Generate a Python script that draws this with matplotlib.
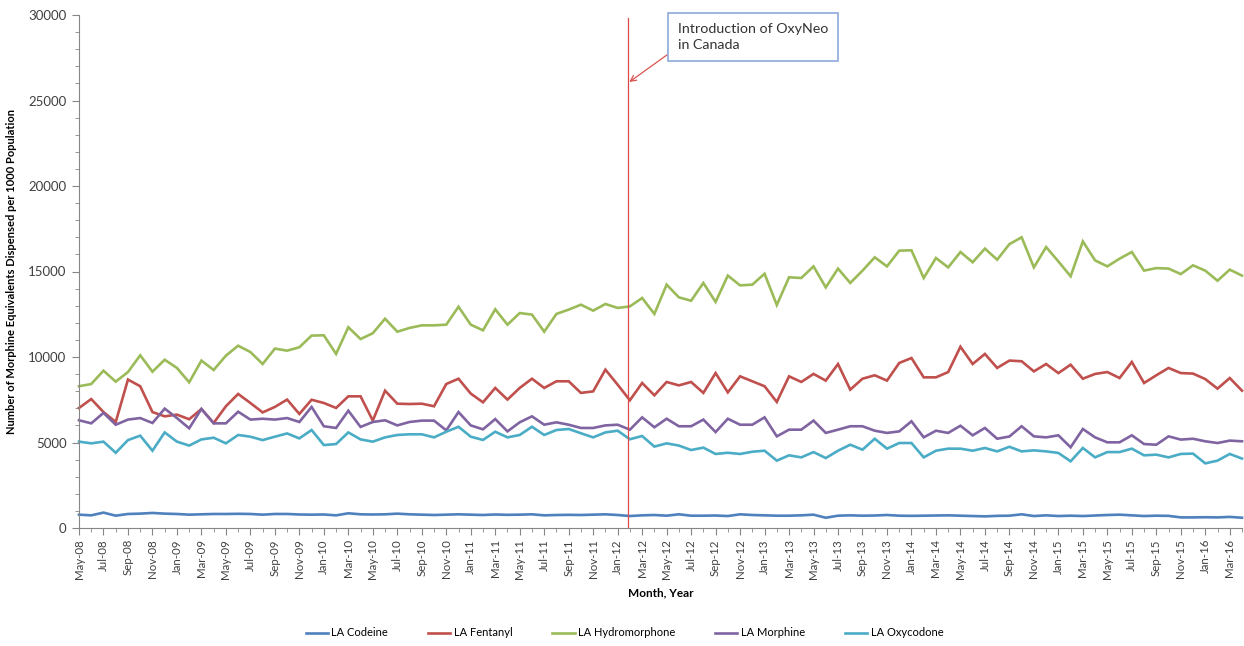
import pandas as pd
import matplotlib
matplotlib.use('Agg')
import matplotlib.pyplot as plt
from matplotlib.ticker import MultipleLocator

plt.rcParams['font.family'] = ['Lato', 'DejaVu Sans']

# monthly series, May-08 .. Apr-16
months = pd.date_range('2008-05-01', periods=96, freq='MS').strftime('%b-%y').tolist()

codeine = [780, 740, 900, 720, 820, 840, 880, 840, 820, 780,
           800, 820, 820, 830, 820, 780, 820, 820, 790, 780,
           790, 740, 860, 800, 790, 800, 840, 800, 780, 760,
           780, 800, 780, 760, 790, 770, 780, 800, 740, 760,
           770, 760, 780, 800, 760, 700, 740, 760, 720, 800,
           720, 720, 730, 700, 800, 760, 740, 720, 720, 740,
           780, 600, 720, 740, 720, 730, 760, 720, 710, 720,
           730, 740, 720, 700, 680, 710, 720, 800, 700, 740,
           700, 720, 700, 730, 760, 780, 740, 700, 720, 710,
           620, 620, 630, 620, 650, 600]

fentanyl = [7020, 7540, 6780, 6200, 8680, 8290, 6780, 6530, 6630, 6360,
            6960, 6140, 7120, 7840, 7310, 6760, 7080, 7510, 6670, 7500,
            7310, 7020, 7700, 7700, 6280, 8030, 7270, 7250, 7270, 7120,
            8420, 8730, 7860, 7350, 8190, 7510, 8190, 8730, 8190,
            8580, 8580, 7900, 7990, 9260, 8380, 7470, 8480, 7760, 8540,
            8340, 8540, 7900, 9060, 7930, 8870, 8580, 8290, 7370,
            8870, 8540, 9010, 8620, 9590, 8090, 8730, 8930, 8620, 9650,
            9940, 8810, 8810, 9120, 10600, 9590, 10180, 9360, 9790,
            9750, 9160, 9590, 9060, 9550, 8730, 9010, 9120, 8770, 9710,
            8480, 8930, 9360, 9060, 9030, 8710, 8150, 8770, 8030]

hydromorphone = [8290, 8420, 9200, 8560, 9120, 10100, 9140, 9840, 9360, 8520,
                 9790, 9240, 10080, 10660, 10290, 9590, 10490, 10370, 10570, 11250,
                 11270, 10180, 11740, 11050, 11390, 12240, 11480, 11700, 11850, 11850,
                 11890, 12940, 11890, 11560, 12790, 11890, 12570, 12480, 11480,
                 12520, 12770, 13060, 12710, 13100, 12870, 12960, 13450, 12520, 14230,
                 13490, 13290, 14330, 13220, 14760, 14190, 14230, 14870, 13040,
                 14660, 14620, 15300, 14070, 15170, 14330, 15050, 15830, 15300, 16220,
                 16240, 14620, 15790, 15240, 16140, 15540, 16340, 15690, 16600,
                 17000, 15240, 16430, 15590, 14720, 16760, 15650, 15300, 15750, 16140,
                 15050, 15200, 15170, 14850, 15360, 15050, 14460, 15110, 14760]

morphine = [6300, 6120, 6730, 6040, 6340, 6430, 6140, 6980, 6430, 5830,
            6960, 6120, 6120, 6800, 6340, 6390, 6340, 6430, 6200, 7080,
            5950, 5850, 6860, 5910, 6200, 6300, 6000, 6200, 6280, 6280,
            5710, 6780, 6000, 5770, 6370, 5650, 6180, 6530, 6040,
            6180, 6040, 5850, 5850, 6000, 6040, 5750, 6470, 5890, 6390,
            5950, 5950, 6340, 5610, 6390, 6040, 6040, 6470, 5360,
            5750, 5750, 6280, 5560, 5750, 5950, 5950, 5690, 5560, 5650,
            6240, 5300, 5690, 5560, 5980, 5420, 5850, 5220, 5350,
            5950, 5360, 5300, 5420, 4720, 5790, 5300, 5010, 5010, 5420,
            4910, 4870, 5360, 5170, 5220, 5070, 4970, 5110, 5070]

oxycodone = [5050, 4950, 5050, 4400, 5140, 5400, 4520, 5590, 5050, 4820,
             5180, 5280, 4950, 5440, 5340, 5140, 5340, 5530, 5240, 5730,
             4850, 4910, 5590, 5180, 5050, 5300, 5440, 5480,
             5480, 5300, 5630, 5920, 5340, 5150, 5630, 5300, 5440, 5920,
             5440, 5730, 5790, 5540, 5300, 5590, 5690, 5190, 5380, 4760,
             4950, 4820, 4560, 4700, 4330, 4400, 4330, 4460, 4520, 3940,
             4250, 4130, 4440, 4090, 4520, 4870, 4580, 5220, 4640, 4970,
             4970, 4130, 4520, 4640, 4640, 4520, 4680, 4480, 4750,
             4480, 4540, 4480, 4390, 3900, 4680, 4130, 4440, 4440, 4640,
             4250, 4290, 4130, 4330, 4350, 3780, 3940, 4330, 4060]

series = {
    'LA Codeine': (codeine, '#4F81BD'),
    'LA Fentanyl': (fentanyl, '#C0504D'),
    'LA Hydromorphone': (hydromorphone, '#9BBB59'),
    'LA Morphine': (morphine, '#8064A2'),
    'LA Oxycodone': (oxycodone, '#4BACC6'),
}

oxyneo_month = 'Feb-12'
annotation = 'Introduction of OxyNeo\nin Canada'

fig = plt.figure(figsize=(12.44, 6.46), dpi=100)
ax = fig.add_axes([79 / 1244, 1 - 528 / 646, 1163 / 1244, 513 / 646])

x = list(range(len(months)))
for name, (vals, col) in series.items():
    ax.plot(x, vals, color=col, lw=1.9, label=name, clip_on=False, solid_joinstyle='miter')

xo = months.index(oxyneo_month)
ax.axvline(xo - 0.15, ymin=0, ymax=0.994, color='#DC4B4B', lw=0.9)

ax.set_xlim(0, len(months) - 1)
ax.set_ylim(0, 30000)

ax.yaxis.set_major_locator(MultipleLocator(5000))
ax.yaxis.set_minor_locator(MultipleLocator(1000))
ax.set_xticks(x[::2])
ax.set_xticklabels(months[::2], rotation=90, fontsize=8.3, color='#404040')
ax.set_xticks(x, minor=True)
ax.tick_params(axis='y', labelsize=9.5, labelcolor='#404040', length=5, color='#868686', pad=4)
ax.tick_params(axis='y', which='minor', length=3, color='#868686')
ax.tick_params(axis='x', length=5, color='#868686', pad=3)
ax.tick_params(axis='x', which='minor', length=3, color='#868686')

for s in ['top', 'right']:
    ax.spines[s].set_visible(False)
for s in ['left', 'bottom']:
    ax.spines[s].set_color('#868686')

ax.set_ylabel('Number of Morphine Equivalents Dispensed per 1000 Population',
              fontsize=8, fontweight='bold', labelpad=8)
ax.set_xlabel('Month, Year', fontsize=8.5, fontweight='bold', labelpad=6)

# annotation box with arrow
ax.annotate(annotation, xy=(xo - 0.05, 26080), xytext=(678, 646 - 37),
            textcoords='figure pixels', ha='left', va='center', fontsize=10.3,
            color='#333333', linespacing=1.45,
            bbox=dict(boxstyle='square,pad=0.7', fc='white', ec='#8EA9DB', lw=1.2),
            arrowprops=dict(arrowstyle='->', color='#D9534F', lw=0.9,
                            shrinkA=0, shrinkB=0, relpos=(0, 0.15)))

fig.legend(loc='center', bbox_to_anchor=(0.502, 1 - 633 / 646), ncol=5, frameon=False,
           fontsize=8, handlelength=2.0, columnspacing=3.6, handletextpad=0.3)

fig.savefig('out.png', dpi=100)
